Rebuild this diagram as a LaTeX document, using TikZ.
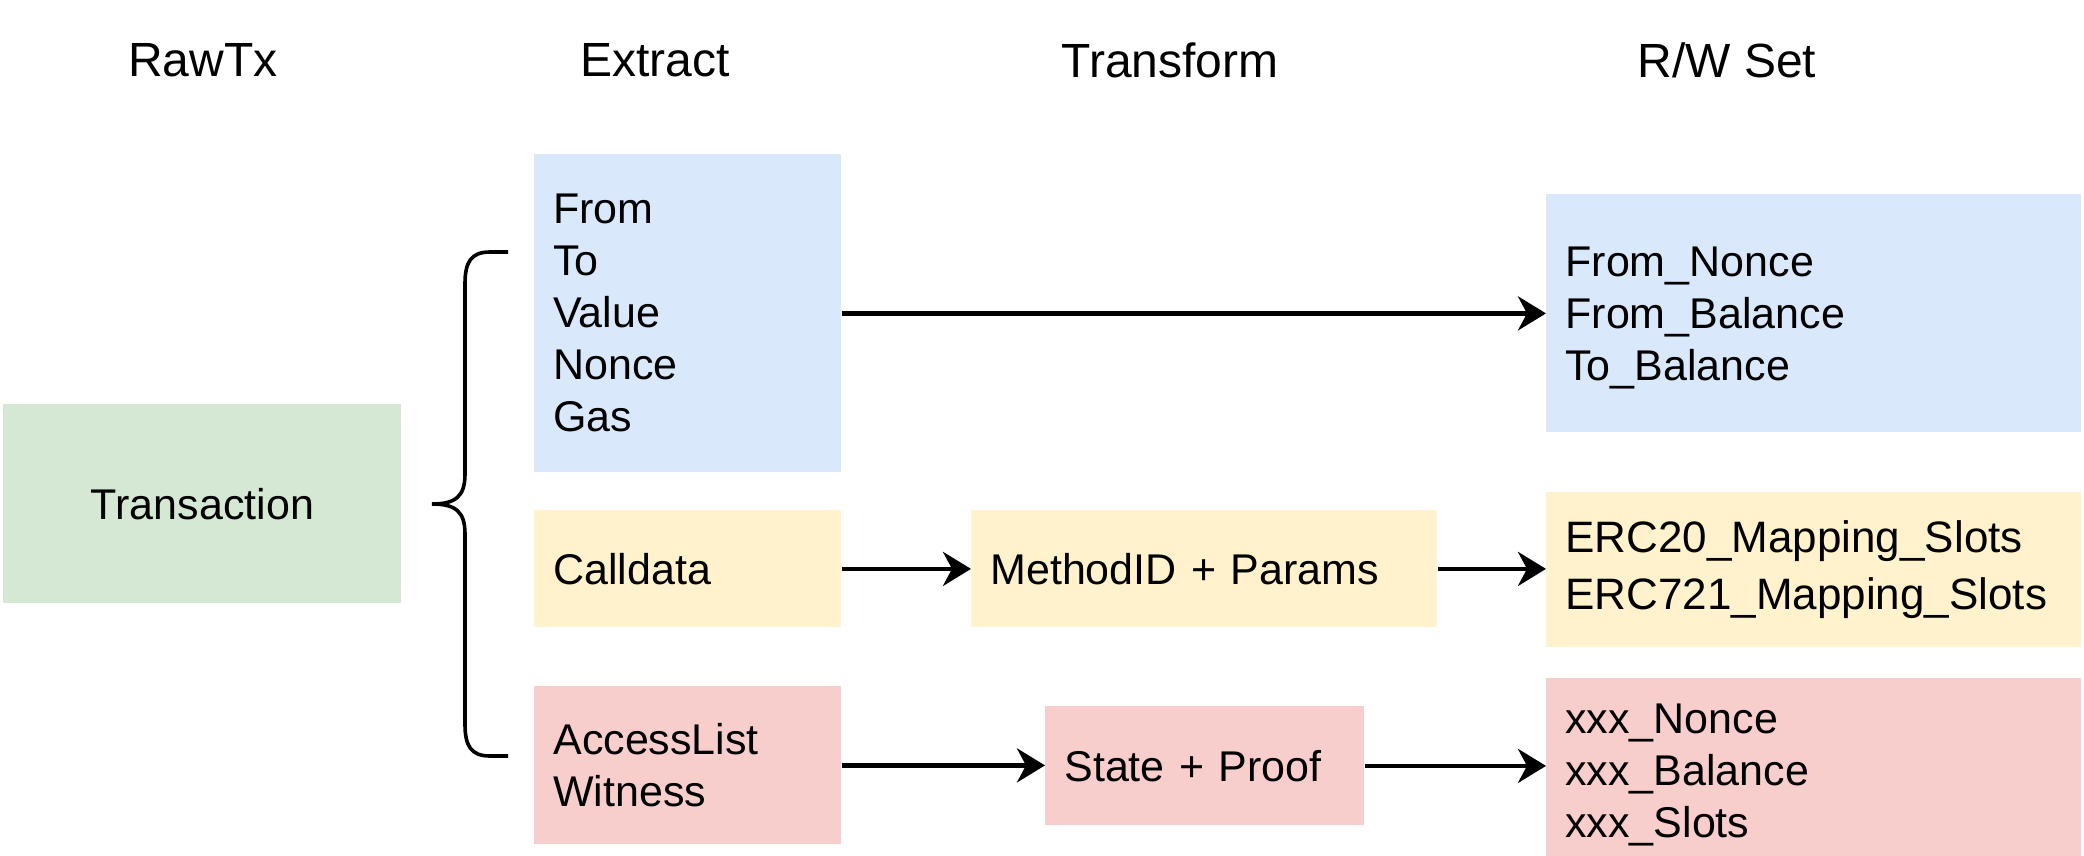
\documentclass[tikz,border=0pt]{standalone}
\usepackage{fontspec}
\setmainfont{Liberation Sans}
\usetikzlibrary{arrows.meta}
\definecolor{txgreen}{HTML}{D5E8D4}
\definecolor{fieldblue}{HTML}{DAE8FC}
\definecolor{fieldyellow}{HTML}{FFF2CC}
\definecolor{fieldred}{HTML}{F8CECC}
\tikzset{
  stage/.style={font=\fontsize{24}{28}\selectfont, anchor=center},
  field/.style={anchor=north west, inner xsep=9.5pt, inner ysep=0pt, align=left, font=\fontsize{21.5}{26}\selectfont},
  flow/.style={line width=2.2pt, -{Stealth[length=14pt,width=17pt,inset=4.5pt]}}
}

\begin{document}
\begin{tikzpicture}[x=0.5pt,y=-0.5pt]
			%%%%% START %%%%%
			\useasboundingbox (0,0) rectangle (2084,856);
			
			\node[stage] (hraw) at (203,60) {RawTx};
			\node[stage] (hextract) at (655,60) {Extract};
			\node[stage] (htransform) at (1170,60) {Transform};
			\node[stage] (hrwset) at (1727,60) {R/W Set};
			
			\node[field, fill=txgreen, align=center, inner xsep=0pt, minimum width=199pt, minimum height=99.5pt] (tx) at (3,404) {Transaction};
			
			\node[field, fill=fieldblue, text width=134.5pt, minimum height=159pt] (exbasic) at (534,154) {From\\To\\Value\\Nonce\\Gas};
			\node[field, fill=fieldyellow, text width=134.5pt, minimum height=58.5pt] (excall) at (534,510) {Calldata};
			\node[field, fill=fieldred, text width=134.5pt, minimum height=79pt] (exacc) at (534,686) {AccessList\\Witness};
			
			\node[field, fill=fieldyellow, text width=214pt, minimum height=58.5pt] (trmethod) at (971,510) {MethodID + Params};
			\node[field, fill=fieldred, text width=140.5pt, minimum height=59.5pt] (trstate) at (1045,706) {State + Proof};
			
			\node[field, fill=fieldblue, text width=248.5pt, minimum height=119pt] (rwbasic) at (1546,194) {\rule{0pt}{19.5pt}From\_Nonce\\From\_Balance\\To\_Balance};
			\node[field, fill=fieldyellow, text width=248.5pt, minimum height=77.5pt, font=\fontsize{22}{28.5}\selectfont] (rwcall) at (1546,492) {ERC20\_Mapping\_Slots\\ERC721\_Mapping\_Slots};
			\node[field, fill=fieldred, text width=248.5pt, minimum height=89pt] (rwacc) at (1546,678) {\rule{0pt}{22pt}xxx\_Nonce\\xxx\_Balance\\xxx\_Slots};
			
			% brace
			\coordinate (bracetip) at (432,504);
			\draw[line width=1.8pt] (508,252) -- (490,252) .. controls (471,252) and (465,262) .. (465,284) -- (465,474) .. controls (465,496) and (456,504) .. (bracetip) .. controls (456,504) and (465,512) .. (465,534) -- (465,724) .. controls (465,746) and (471,756) .. (490,756) -- (508,756);
			
			\draw[flow] (exbasic.east) -- (exbasic.east -| rwbasic.west);
			\draw[flow] (excall.east) -- (excall.east -| trmethod.west);
			\draw[flow] (trmethod.east) -- (trmethod.east -| rwcall.west);
			\draw[flow] (exacc.east) -- (exacc.east -| trstate.west);
			\draw[flow] (trstate.east) -- (trstate.east -| rwacc.west);
			
			%%%%% END %%%%%
\end{tikzpicture}
\end{document}
